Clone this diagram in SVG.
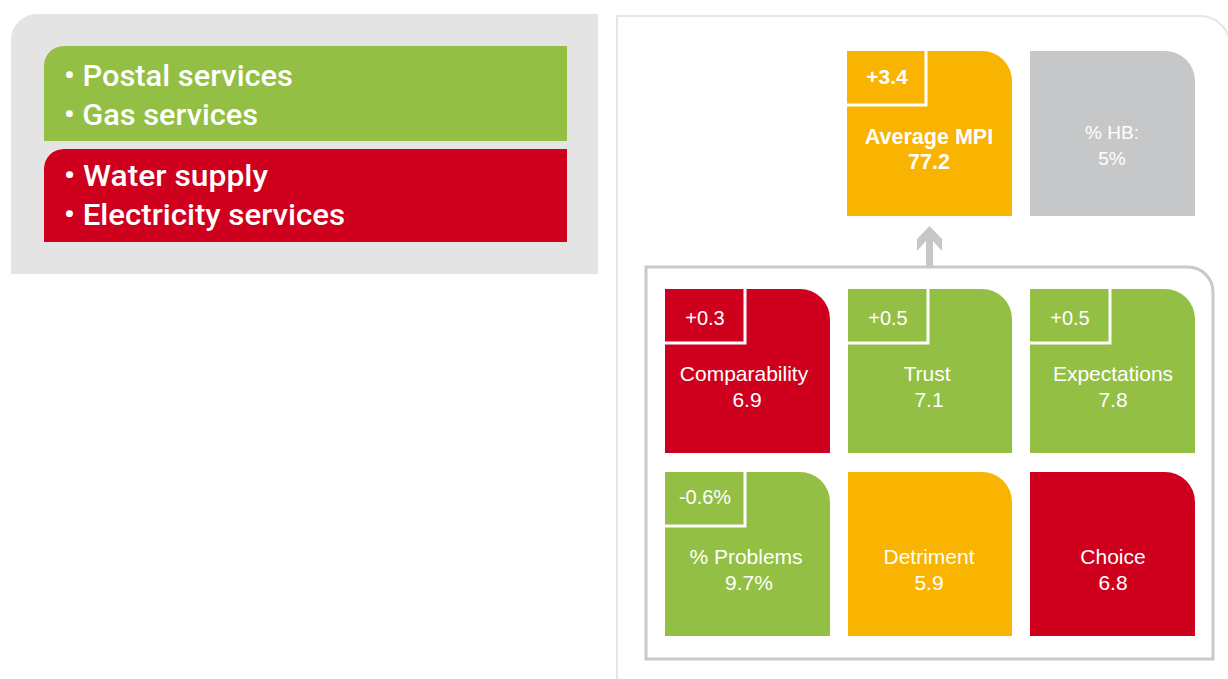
<svg xmlns="http://www.w3.org/2000/svg" width="1228" height="679" viewBox="0 0 1228 679">
<style>
.lbl{font-family:"Liberation Sans",Arial,sans-serif;fill:#ffffff;text-anchor:middle}
.tile{font-size:21px}
.ins{font-size:20px}
.big{font-family:Roboto,"Liberation Sans",Arial,sans-serif;font-weight:500;fill:#ffffff;font-size:30px}
.bold{font-weight:bold}
.edge{fill:none;stroke:#ffffff;stroke-width:3}
.green{fill:#92bf44}.red{fill:#cf001d}.orange{fill:#f8b400}.grey{fill:#c6c7c8}
</style>
<rect width="1228" height="679" fill="#ffffff"/>
<g id="legend-panel">
<path d="M11,274 V40 A26,26 0 0 1 37,14 H598 V274 Z" fill="#e3e4e3"/>
</g>
<g id="legend-green">
<path d="M44,141 V66 A20,20 0 0 1 64,46 H567 V141 Z" class="green"/>
<text class="big" x="64" y="86" textLength="229" lengthAdjust="spacingAndGlyphs">• Postal services</text>
<text class="big" x="64" y="125" textLength="194" lengthAdjust="spacingAndGlyphs">• Gas services</text>
</g>
<g id="legend-red">
<path d="M44,242 V169 A20,20 0 0 1 64,149 H567 V242 Z" class="red"/>
<text class="big" x="64" y="186" textLength="204" lengthAdjust="spacingAndGlyphs">• Water supply</text>
<text class="big" x="64" y="225" textLength="281" lengthAdjust="spacingAndGlyphs">• Electricity services</text>
</g>
<g id="outer-panel">
<path d="M617,680 V16 H1200 A30,30 0 0 1 1230,46" fill="none" stroke="#e6e6e6" stroke-width="2"/>
</g>
<g id="inner-panel">
<path d="M646,267 H1188 A25,25 0 0 1 1213,292 V659 H646 Z" fill="none" stroke="#c8c9c9" stroke-width="3"/>
</g>
<g id="connectors">
<polygon points="929.5,226 942,239 942,251 933,241 933,266 926,266 926,241 917,251 917,239" fill="#c6c7c8"/>
</g>
<g id="node-mpi">
<path d="M847,51 H982 A30,30 0 0 1 1012,81 V216 H847 Z" class="orange"/>
<polyline class="edge" points="847,105 926,105 926,51"/>
<text class="lbl bold" x="887" y="84" font-size="21">+3.4</text>
<text class="lbl bold" x="929" y="144" font-size="21.5">Average MPI</text>
<text class="lbl bold" x="929" y="169" font-size="21.5">77.2</text>
</g>
<g id="node-hb">
<path d="M1030,51 H1165 A30,30 0 0 1 1195,81 V216 H1030 Z" class="grey"/>
<text class="lbl" x="1112" y="139" font-size="19" fill="#f2f2f2">% HB:</text>
<text class="lbl" x="1112" y="165" font-size="19" fill="#f2f2f2">5%</text>
</g>
<g id="node-comparability">
<path d="M665,289 H800 A30,30 0 0 1 830,319 V453 H665 Z" class="red"/>
<polyline class="edge" points="665,343 745,343 745,289"/>
<text class="lbl ins" x="705" y="325">+0.3</text>
<text class="lbl tile" x="744" y="381">Comparability</text>
<text class="lbl tile" x="747" y="407">6.9</text>
</g>
<g id="node-trust">
<path d="M848,289 H982 A30,30 0 0 1 1012,319 V453 H848 Z" class="green"/>
<polyline class="edge" points="848,343 928,343 928,289"/>
<text class="lbl ins" x="888" y="325">+0.5</text>
<text class="lbl tile" x="927" y="381">Trust</text>
<text class="lbl tile" x="929" y="407">7.1</text>
</g>
<g id="node-expectations">
<path d="M1030,289 H1165 A30,30 0 0 1 1195,319 V453 H1030 Z" class="green"/>
<polyline class="edge" points="1030,343 1110,343 1110,289"/>
<text class="lbl ins" x="1070" y="325">+0.5</text>
<text class="lbl tile" x="1113" y="381">Expectations</text>
<text class="lbl tile" x="1113" y="407">7.8</text>
</g>
<g id="node-problems">
<path d="M665,472 H800 A30,30 0 0 1 830,502 V636 H665 Z" class="green"/>
<polyline class="edge" points="665,526 745,526 745,472"/>
<text class="lbl ins" x="705" y="504">-0.6%</text>
<text class="lbl tile" x="746" y="564">% Problems</text>
<text class="lbl tile" x="749" y="590">9.7%</text>
</g>
<g id="node-detriment">
<path d="M848,472 H982 A30,30 0 0 1 1012,502 V636 H848 Z" class="orange"/>
<text class="lbl tile" x="929" y="564">Detriment</text>
<text class="lbl tile" x="929" y="590">5.9</text>
</g>
<g id="node-choice">
<path d="M1030,472 H1165 A30,30 0 0 1 1195,502 V636 H1030 Z" class="red"/>
<text class="lbl tile" x="1113" y="564">Choice</text>
<text class="lbl tile" x="1113" y="590">6.8</text>
</g>
</svg>
